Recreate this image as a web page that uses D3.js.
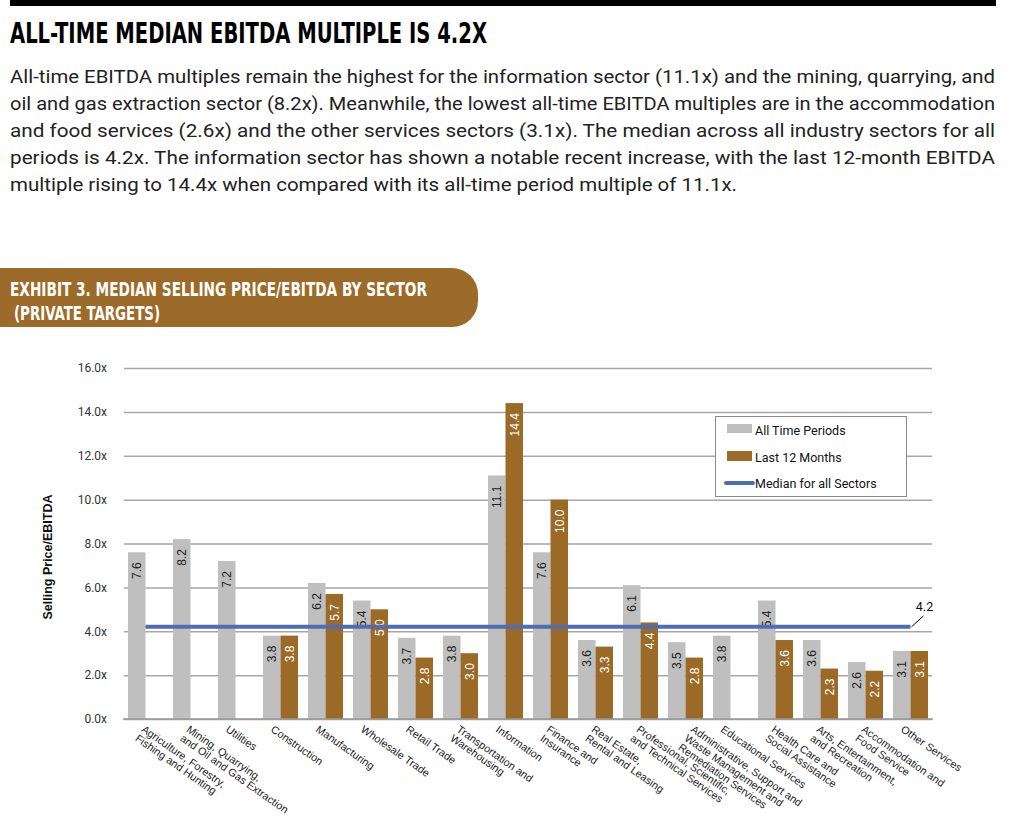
<!DOCTYPE html>
<html>
<head>
<meta charset="utf-8">
<script src="https://cdn.jsdelivr.net/npm/d3@7"></script>
<style>
  body { margin: 0; background: #fff; }
  svg { display: block; }
</style>
</head>
<body>
<svg width="1011" height="840"></svg>
<script>
const categories = [
    ["Agriculture, Forestry,", "Fishing and Hunting"],
    ["Mining, Quarrying,", "and Oil and Gas Extraction"],
    ["Utilities"],
    ["Construction"],
    ["Manufacturing"],
    ["Wholesale Trade"],
    ["Retail Trade"],
    ["Transportation and", "Warehousing"],
    ["Information"],
    ["Finance and", "Insurance"],
    ["Real Estate,", "Rental and Leasing"],
    ["Professional, Scientific,", "and Technical Services"],
    ["Administrative, Support and", "Waste Management and", "Remediation Services"],
    ["Educational Services"],
    ["Health Care and", "Social Assistance"],
    ["Arts, Entertainment,", "and Recreation"],
    ["Accommodation and", "Food Service"],
    ["Other Services"]
];
const allTime = [7.6, 8.2, 7.2, 3.8, 6.2, 5.4, 3.7, 3.8, 11.1, 7.6, 3.6, 6.1, 3.5, 3.8, 5.4, 3.6, 2.6, 3.1];
const last12 = [null, null, null, 3.8, 5.7, 5.0, 2.8, 3.0, 14.4, 10.0, 3.3, 4.4, 2.8, null, 3.6, 2.3, 2.2, 3.1];
const medianAll = 4.2;
const yTicks = [0, 2, 4, 6, 8, 10, 12, 14, 16];
const seriesNames = ["All Time Periods", "Last 12 Months", "Median for all Sectors"];

const paragraph = [
    "All-time EBITDA multiples remain the highest for the information sector (11.1x) and the mining, quarrying, and",
    "oil and gas extraction sector (8.2x). Meanwhile, the lowest all-time EBITDA multiples are in the accommodation",
    "and food services (2.6x) and the other services sectors (3.1x). The median across all industry sectors for all",
    "periods is 4.2x. The information sector has shown a notable recent increase, with the last 12-month EBITDA",
    "multiple rising to 14.4x when compared with its all-time period multiple of 11.1x."
];
const paragraphWidths = [985, 985, 985, 985, 727];

const colorMap = { all: "#bfbfbf", last: "#9b6a27", median: "#4e6db3" };
const condensed = "'Liberation Sans Narrow', 'DejaVu Sans Condensed', 'Roboto', sans-serif";

const svg = d3.select("svg");

// header
svg.append("rect").attr("x", 10).attr("y", 0).attr("width", 986).attr("height", 6).attr("fill", "#000");
svg.append("text")
    .attr("x", 10).attr("y", 43)
    .attr("textLength", 477).attr("lengthAdjust", "spacingAndGlyphs")
    .style("font-family", condensed).style("font-weight", "bold").style("font-size", "29px")
    .attr("fill", "#000")
    .text("ALL-TIME MEDIAN EBITDA MULTIPLE IS 4.2X");

paragraph.forEach((line, i) => {
    svg.append("text")
        .attr("x", 10).attr("y", 83 + i * 27)
        .attr("textLength", paragraphWidths[i]).attr("lengthAdjust", "spacingAndGlyphs")
        .style("font-family", "Roboto, sans-serif").style("font-size", "18.5px")
        .attr("fill", "#222")
        .text(line);
});

// exhibit banner
const bannerPath = d3.path();
bannerPath.moveTo(0, 268);
bannerPath.lineTo(452, 268);
bannerPath.arcTo(478, 268, 478, 294, 26);
bannerPath.lineTo(478, 301);
bannerPath.arcTo(478, 327, 452, 327, 26);
bannerPath.lineTo(0, 327);
bannerPath.closePath();
svg.append("path").attr("d", bannerPath.toString()).attr("fill", "#9d6b29");

[["EXHIBIT 3. MEDIAN SELLING PRICE/EBITDA BY SECTOR", 10, 296, 417],
 ["(PRIVATE TARGETS)", 14, 320, 146]].forEach(([txt, x, y, w]) => {
    svg.append("text")
        .attr("x", x).attr("y", y)
        .attr("textLength", w).attr("lengthAdjust", "spacingAndGlyphs")
        .style("font-family", condensed).style("font-weight", "bold").style("font-size", "20px")
        .attr("fill", "#fff")
        .text(txt);
});

// chart
const scaleX = d3.scaleBand()
    .domain(d3.range(categories.length))
    .range([123, 933])
    .paddingInner(10 / 45)
    .paddingOuter(5 / 45);

const scaleXInner = d3.scaleBand()
    .domain(["all", "last"])
    .range([0, scaleX.bandwidth()]);

const scaleY = d3.scaleLinear().domain([0, 16]).range([719, 368]);

const g = svg.append("g");

// grid
g.append("g")
    .attr("transform", "translate(124,0)")
    .call(d3.axisLeft(scaleY).tickValues(yTicks).tickSize(-808).tickFormat(d => d3.format(".1f")(d) + "x"))
    .call(ax => ax.select(".domain").remove())
    .call(ax => ax.selectAll(".tick line").attr("stroke", "#a6a6a6").attr("stroke-width", 1.5))
    .call(ax => ax.selectAll(".tick text")
        .attr("x", -17)
        .style("font-family", "Roboto, sans-serif").style("font-size", "12px").attr("fill", "#333"));

svg.append("text")
    .attr("transform", "translate(52,557) rotate(-90)")
    .attr("text-anchor", "middle")
    .style("font-family", "'Liberation Sans', Arial, sans-serif").style("font-weight", "bold").style("font-size", "12.5px")
    .attr("fill", "#111")
    .text("Selling Price/EBITDA");

// bars
const bars = [];
categories.forEach((c, i) => {
    bars.push({ i, key: "all", v: allTime[i] });
    if (last12[i] !== null) bars.push({ i, key: "last", v: last12[i] });
});

g.selectAll("rect.bar")
    .data(bars)
    .join("rect")
    .attr("class", "bar")
    .attr("x", d => scaleX(d.i) + scaleXInner(d.key))
    .attr("y", d => scaleY(d.v))
    .attr("width", scaleXInner.bandwidth())
    .attr("height", d => scaleY(0) - scaleY(d.v))
    .attr("fill", d => colorMap[d.key]);

g.selectAll("text.val")
    .data(bars)
    .join("text")
    .attr("class", "val")
    .attr("transform", d => `translate(${scaleX(d.i) + scaleXInner(d.key) + scaleXInner.bandwidth() / 2 + 4.5},${scaleY(d.v) + 10}) rotate(-90)`)
    .attr("text-anchor", "end")
    .style("font-family", "'Liberation Sans', Arial, sans-serif").style("font-size", "12px")
    .attr("fill", d => d.key === "all" ? "#222" : "#fff")
    .text(d => d3.format(".1f")(d.v));

// baseline
g.append("line")
    .attr("x1", 123).attr("x2", 933)
    .attr("y1", scaleY(0)).attr("y2", scaleY(0))
    .attr("stroke", "#999").attr("stroke-width", 1.5);

// median line
const xFirst = scaleX(0) + scaleX.bandwidth() / 2;
const xLast = scaleX(categories.length - 1) + scaleX.bandwidth() / 2;
g.append("line")
    .attr("x1", xFirst).attr("x2", xLast)
    .attr("y1", scaleY(medianAll)).attr("y2", scaleY(medianAll))
    .attr("stroke", colorMap.median).attr("stroke-width", 4);

g.append("line")
    .attr("x1", xLast + 1).attr("y1", scaleY(medianAll))
    .attr("x2", xLast + 13).attr("y2", scaleY(medianAll) - 11)
    .attr("stroke", "#000").attr("stroke-width", 1);
g.append("text")
    .attr("x", xLast + 14).attr("y", scaleY(medianAll) - 16)
    .attr("text-anchor", "middle")
    .style("font-family", "Roboto, sans-serif").style("font-size", "12.5px")
    .attr("fill", "#111")
    .text(d3.format(".1f")(medianAll));

// category labels: rotated blocks, taller blocks shifted right
const angle = 35;
const lineH = 11;
const lab = g.selectAll("g.cat")
    .data(categories)
    .join("g")
    .attr("class", "cat")
    .attr("transform", (d, i) => {
        const x = scaleX(i) + scaleX.bandwidth() / 2 - 7.4 + 1.875 * d.length * d.length;
        return `translate(${x},724) rotate(${angle})`;
    });

lab.selectAll("text")
    .data(d => d)
    .join("text")
    .attr("x", 0)
    .attr("y", (d, k) => 8.5 + k * lineH)
    .style("font-family", "'Liberation Sans', Arial, sans-serif").style("font-size", "10.8px")
    .attr("fill", "#222")
    .text(d => d);

// legend
const legend = svg.append("g");
legend.append("rect")
    .attr("x", 715.5).attr("y", 416.5).attr("width", 191).attr("height", 80)
    .attr("fill", "#fff").attr("stroke", "#8c8c8c").attr("stroke-width", 1);
legend.append("rect").attr("x", 727).attr("y", 424).attr("width", 25).attr("height", 9).attr("fill", colorMap.all);
legend.append("rect").attr("x", 727).attr("y", 451).attr("width", 25).attr("height", 10).attr("fill", colorMap.last);
legend.append("line").attr("x1", 726).attr("x2", 753).attr("y1", 483).attr("y2", 483)
    .attr("stroke", colorMap.median).attr("stroke-width", 4).attr("stroke-linecap", "round");
[435, 462, 488].forEach((y, k) => {
    legend.append("text")
        .attr("x", 755).attr("y", y)
        .style("font-family", "Roboto, sans-serif").style("font-size", "12.5px")
        .attr("fill", "#111")
        .text(seriesNames[k]);
});
</script>
</body>
</html>
